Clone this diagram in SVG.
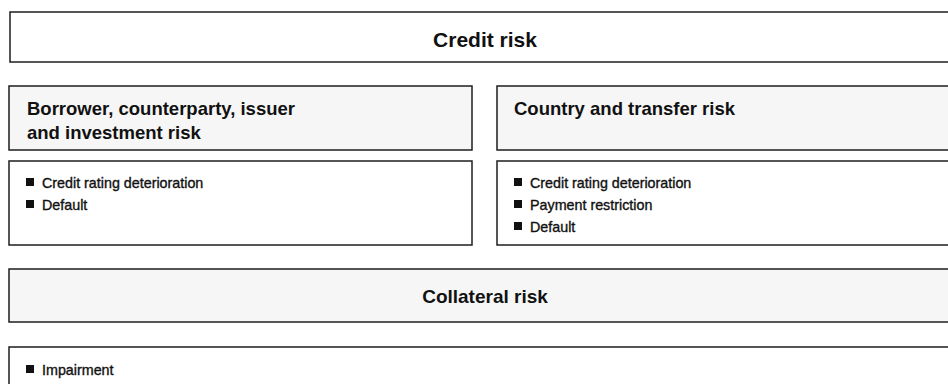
<svg xmlns="http://www.w3.org/2000/svg" width="948" height="384" viewBox="0 0 948 384">
<style>
.box{fill:#ffffff;stroke:#1e1e1e;stroke-width:1.5}
.hdr{fill:#f6f6f6;stroke:#1e1e1e;stroke-width:1.5}
.t{font-family:"Liberation Sans",Arial,sans-serif;fill:#111}
.title{font-size:21px;font-weight:bold}
.h{font-size:18.5px;font-weight:bold}
.c{font-size:19px;font-weight:bold}
.li{font-size:14.3px;stroke:#111;stroke-width:0.35}
.b{fill:#111}
</style>
<rect width="948" height="384" fill="#ffffff"/>
<g id="credit-risk">
<rect class="box" x="10" y="12" width="960" height="50"/>
<text class="t title" x="485" y="47" text-anchor="middle">Credit risk</text>
</g>
<g id="borrower-header">
<rect class="hdr" x="9" y="86" width="463" height="64"/>
<text class="t h" x="27" y="115">Borrower, counterparty, issuer</text>
<text class="t h" x="27" y="139">and investment risk</text>
</g>
<g id="borrower-list">
<rect class="box" x="9" y="161" width="463" height="84"/>
<rect class="b" x="26" y="178" width="8" height="8"/>
<text class="t li" x="42" y="188">Credit rating deterioration</text>
<rect class="b" x="26" y="200" width="8" height="8"/>
<text class="t li" x="42" y="210">Default</text>
</g>
<g id="country-header">
<rect class="hdr" x="497" y="86" width="470" height="64"/>
<text class="t h" x="514" y="115">Country and transfer risk</text>
</g>
<g id="country-list">
<rect class="box" x="497" y="161" width="470" height="84"/>
<rect class="b" x="514" y="178" width="8" height="8"/>
<text class="t li" x="530" y="188">Credit rating deterioration</text>
<rect class="b" x="514" y="200" width="8" height="8"/>
<text class="t li" x="530" y="210">Payment restriction</text>
<rect class="b" x="514" y="222" width="8" height="8"/>
<text class="t li" x="530" y="232">Default</text>
</g>
<g id="collateral-header">
<rect class="hdr" x="9" y="269" width="960" height="53"/>
<text class="t c" x="485" y="303" text-anchor="middle">Collateral risk</text>
</g>
<g id="collateral-list">
<rect class="box" x="9" y="347" width="960" height="60"/>
<rect class="b" x="26" y="365" width="8" height="8"/>
<text class="t li" x="42" y="375">Impairment</text>
</g>
<g id="connectors"></g>
</svg>
